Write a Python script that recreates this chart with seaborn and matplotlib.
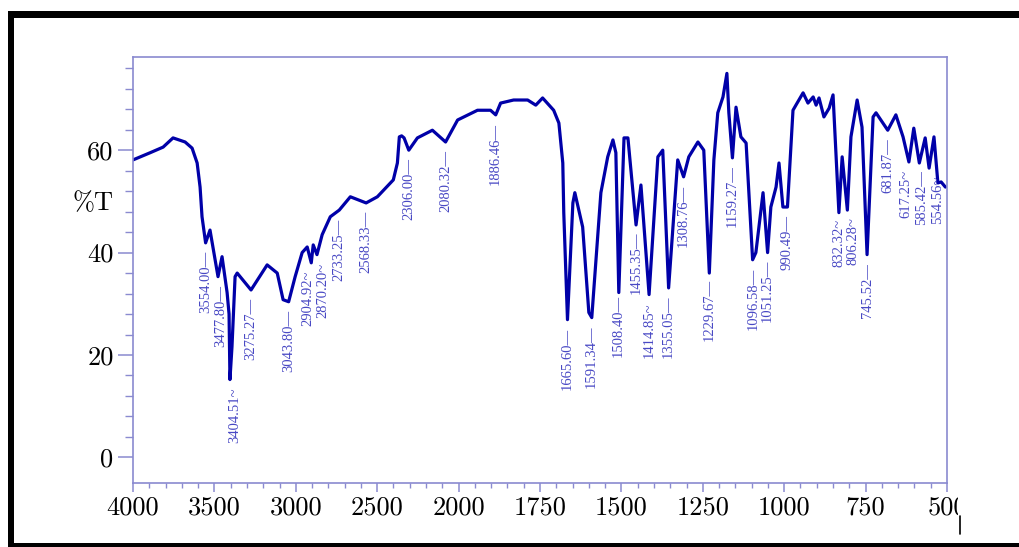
import numpy as np
import pandas as pd
import matplotlib
matplotlib.use("Agg")
import matplotlib.pyplot as plt
from matplotlib.lines import Line2D
from matplotlib.patches import Rectangle
from matplotlib.ticker import FixedLocator, NullFormatter
from matplotlib.transforms import Bbox
import seaborn as sns

# ---------------- data ----------------
wavenumber = [4000, 3895, 3815, 3754, 3680, 3637, 3606, 3588, 3576, 3554,
              3527, 3477.8, 3453, 3422, 3410, 3404.5, 3392, 3373, 3360, 3275,
              3176, 3114, 3078, 3044, 3004, 2961, 2930, 2905, 2893, 2870,
              2838, 2788, 2733, 2665, 2568, 2499, 2401, 2376, 2364, 2350,
              2335, 2306, 2253, 2161, 2080, 2006, 1942, 1902, 1886, 1871,
              1831, 1788, 1763, 1742, 1708, 1692, 1680, 1677, 1665.6, 1649,
              1643, 1619, 1600, 1591, 1563, 1542, 1526, 1517, 1508, 1492,
              1480, 1455, 1440, 1415, 1388, 1373, 1355, 1327, 1309, 1293,
              1265, 1247, 1230, 1216, 1204, 1188, 1176, 1170, 1159, 1148,
              1133, 1117, 1097, 1087, 1065, 1051, 1041, 1025, 1016, 1004,
              990, 973, 964, 942, 927, 911, 902, 893, 878, 862,
              850, 832, 822, 806, 795, 776, 761, 745.5, 727, 718,
              682, 657, 635, 617, 602, 585, 567, 555, 540, 528,
              518, 505]
transmittance = [58.1, 59.5, 60.6, 62.4, 61.6, 60.4, 57.5, 52.8, 47.0, 41.9,
                 44.4, 35.3, 39.2, 32.2, 28.0, 15.2, 21.6, 35.3, 36.0, 32.7,
                 37.6, 36.0, 30.8, 30.4, 35.3, 40.0, 41.1, 38.0, 41.5, 39.6,
                 43.5, 47.0, 48.3, 50.9, 49.7, 50.9, 54.2, 57.5, 62.6, 62.8,
                 62.4, 60.0, 62.4, 63.9, 61.6, 65.9, 67.8, 67.8, 66.9, 69.2,
                 69.8, 69.8, 68.8, 70.2, 67.8, 65.3, 57.5, 47.8, 26.9, 49.7,
                 51.7, 45.0, 28.3, 27.3, 51.7, 58.7, 62.0, 59.5, 32.2, 62.4,
                 62.4, 45.4, 53.2, 31.8, 58.7, 60.0, 33.1, 58.1, 54.8, 58.7,
                 61.6, 60.0, 36.0, 58.1, 67.3, 70.4, 75.0, 67.3, 58.5, 68.4,
                 62.6, 61.4, 38.6, 40.0, 51.7, 40.0, 48.9, 52.8, 57.5, 48.9,
                 48.9, 67.8, 68.8, 71.2, 69.2, 70.4, 68.8, 70.2, 66.5, 68.2,
                 70.8, 47.8, 58.7, 48.3, 62.6, 69.8, 64.5, 39.6, 66.5, 67.3,
                 63.9, 66.9, 62.6, 57.7, 64.3, 57.5, 62.4, 56.5, 62.6, 53.6,
                 53.8, 52.8]

peak_labels = ["3554.00", "3477.80", "3404.51", "3275.27", "3043.80", "2904.92",
               "2870.20", "2733.25", "2568.33", "2306.00", "2080.32", "1886.46",
               "1665.60", "1591.34", "1508.40", "1455.35", "1414.85", "1355.05",
               "1308.76", "1229.67", "1159.27", "1096.58", "1051.25", "990.49",
               "832.32", "806.28", "745.52", "681.87", "617.25", "585.42", "554.56"]
curved_leader = ["3404.51", "2904.92", "2870.20", "1414.85", "832.32", "806.28",
                 "617.25", "554.56"]
# horizontal nudges of some labels (in cm-1) to avoid overlap
label_shift = {"3477.80": -18, "3404.51": -30, "2904.92": 20, "2870.20": -39,
               "806.28": -18, "617.25": 8, "585.42": -6, "554.56": -25}

x_major = [4000, 3500, 3000, 2500, 2000, 1750, 1500, 1250, 1000, 750, 500]
y_major = [0, 20, 40, 60]

# ---------------- styling ----------------
LINE_COLOR = "#0000a8"
LABEL_COLOR = "#4848c4"
AXIS_COLOR = "#8a8ad0"

sns.set_theme(style="white")
plt.rcParams["font.family"] = ["cmr10", "DejaVu Serif"]
plt.rcParams["axes.formatter.use_mathtext"] = True

fig = plt.figure(figsize=(10.19, 5.47), dpi=100)
ax = fig.add_axes([133 / 1019, 1 - 483 / 547, (947 - 133) / 1019, (483 - 57) / 547])

df = pd.DataFrame({"wavenumber": wavenumber, "T": transmittance})
sns.lineplot(data=df, x="wavenumber", y="T", ax=ax, color=LINE_COLOR,
             linewidth=2.3, estimator=None, sort=False)


# spectrometer-style axis: 500 cm-1 per division above 2000, 250 below
def fwd(w):
    w = np.asarray(w, dtype=float)
    return np.where(w >= 2000, w / 500.0, 4 - (2000 - w) / 250.0)


def inv(u):
    u = np.asarray(u, dtype=float)
    return np.where(u >= 4, 500.0 * u, 2000 - 250.0 * (4 - u))


ax.set_xscale("function", functions=(fwd, inv))
ax.set_xlim(4000, 500)
ax.set_ylim(-5.0, 78.2)

ax.xaxis.set_major_locator(FixedLocator(x_major))
x_minor = [w for w in range(3900, 2000, -100) if w not in x_major] + \
          [w for w in range(1950, 500, -50) if w not in x_major]
ax.xaxis.set_minor_locator(FixedLocator(x_minor))
ax.xaxis.set_minor_formatter(NullFormatter())
ax.set_xticks(x_major)
ax.set_xticklabels([str(v) for v in x_major])

ax.yaxis.set_major_locator(FixedLocator(y_major))
ax.yaxis.set_minor_locator(FixedLocator([v for v in range(0, 78, 4) if v not in y_major]))
ax.yaxis.set_minor_formatter(NullFormatter())
ax.set_yticks(y_major)
ax.set_yticklabels([str(v) for v in y_major])

for s in ax.spines.values():
    s.set_color(AXIS_COLOR)
    s.set_linewidth(1.2)

ax.tick_params(axis="x", which="major", direction="out", length=6.5, width=1.1,
               color=AXIS_COLOR, labelsize=19, labelcolor="black", pad=3,
               bottom=True, top=False)
ax.tick_params(axis="x", which="minor", direction="out", length=3.5, width=1.0,
               color=AXIS_COLOR, bottom=True, top=False)
ax.tick_params(axis="y", which="major", direction="out", length=11, width=1.1,
               color=AXIS_COLOR, labelsize=19, labelcolor="black", pad=3,
               left=True, right=False)
ax.tick_params(axis="y", which="minor", direction="out", length=6, width=1.0,
               color=AXIS_COLOR, left=True, right=False)

ax.set_xlabel("")
ax.set_ylabel("%T", rotation=0, fontsize=19, color="black", va="center", ha="center")
ax.yaxis.set_label_coords(-0.049, 0.657)

# peak labels
asc_w = np.array(wavenumber[::-1], dtype=float)
asc_t = np.array(transmittance[::-1], dtype=float)
for lab in peak_labels:
    w = float(lab)
    t = float(np.interp(w, asc_w, asc_t))
    lead = "~" if lab in curved_leader else "\u2014"
    ax.text(w + label_shift.get(lab, 0), t - 1.6, lab + lead, rotation=90,
            ha="center", va="top", fontsize=10.5, color=LABEL_COLOR,
            family=["Liberation Serif", "DejaVu Serif"])

# clip the last x tick label like the cropped reference
fig.canvas.draw()
for tk in ax.xaxis.get_major_ticks():
    tk.label1.set_clip_box(Bbox([[0, 0], [958, 547]]))
    tk.label1.set_clip_on(True)

# black frame of the scanned figure
fig.add_artist(Rectangle((8 / 1019, 1 - 18 / 547), 1 - 8 / 1019, 7 / 547,
                         transform=fig.transFigure, color="black", lw=0))
fig.add_artist(Rectangle((8 / 1019, 0), 6 / 1019, 1 - 11 / 547,
                         transform=fig.transFigure, color="black", lw=0))
fig.add_artist(Rectangle((8 / 1019, 0), 1 - 8 / 1019, 4 / 547,
                         transform=fig.transFigure, color="black", lw=0))
fig.add_artist(Line2D([960 / 1019, 960 / 1019], [1 - 534 / 547, 1 - 516 / 547],
                      transform=fig.transFigure, color="black", lw=1.2))

fig.savefig("out.png", dpi=100)
